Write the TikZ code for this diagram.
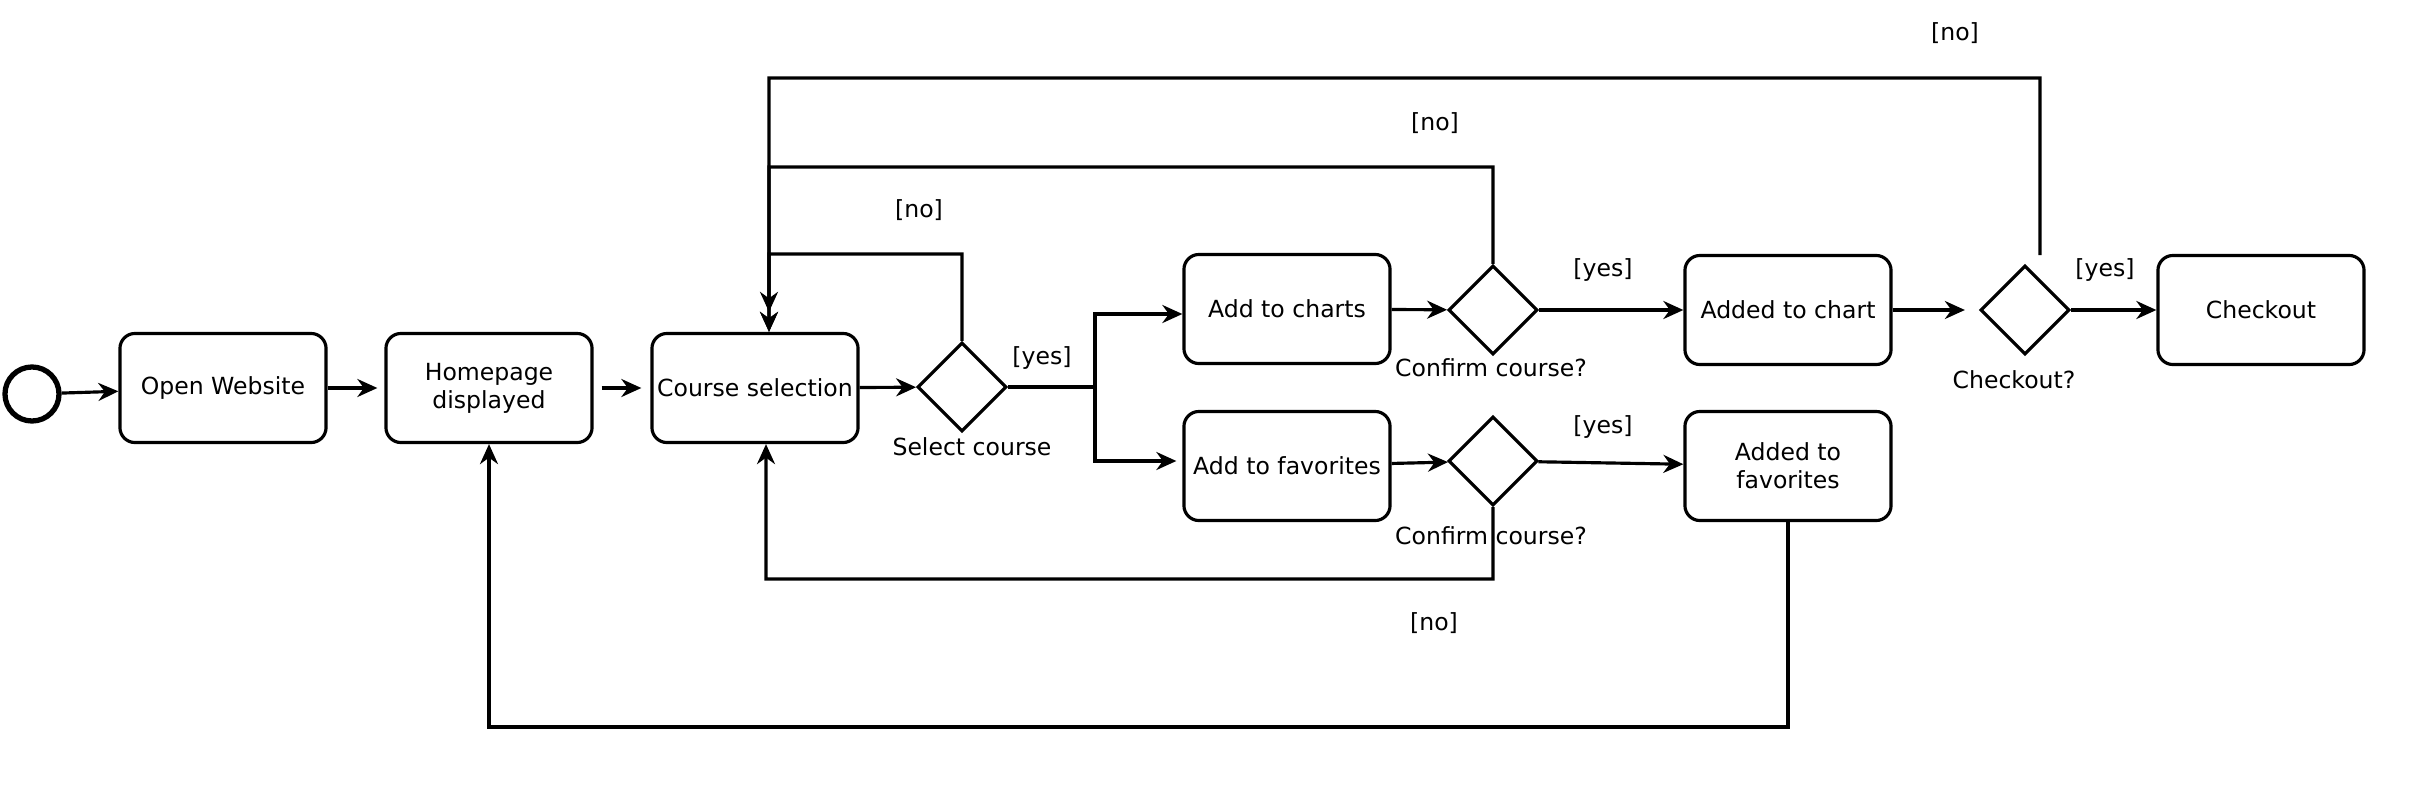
\documentclass[tikz,border=0pt]{standalone}
\usepackage{fontspec}
\setmainfont{DejaVu Sans}
\usetikzlibrary{positioning,shapes.geometric,arrows.meta}
\begin{document}
\begin{tikzpicture}[x=0.01cm,y=-0.01cm,
  every node/.style={font=\fontsize{6.7}{7.9}\selectfont},
  activity/.style={draw,line width=0.9pt,rounded corners=0.15cm,minimum width=2.06cm,minimum height=1.09cm,align=center,inner sep=1pt},
  decision/.style={draw,diamond,line width=0.9pt,minimum size=0.89cm,inner sep=0pt},
  flow/.style={line width=0.9pt,-{Stealth[length=2mm,width=1.8mm]}},
  guard/.style={inner sep=1pt}]
\useasboundingbox (0,0) rectangle (2417,812);
\node [draw,circle,line width=1.5pt,minimum size=0.54cm,inner sep=0pt] (start) at (32,394) {};
\node [activity] (open) at (223,388) {Open Website};
\node [activity] (home) at (489,388) {Homepage\\displayed};
\node [activity] (course) at (755,388) {Course selection};
\node [decision] (select) at (962,387) {};
\node [activity] (charts) at (1287,309) {Add to charts};
\node [activity] (fav) at (1287,466) {Add to favorites};
\node [decision] (conf1) at (1493,310) {};
\node [decision] (conf2) at (1493,461) {};
\node [activity] (addc) at (1788,310) {Added to chart};
\node [activity] (addf) at (1788,466) {Added to\\favorites};
\node [decision] (chk) at (2025,310) {};
\node [activity] (checkout) at (2261,310) {Checkout};
\coordinate (split) at (1095,387);
\coordinate (back1) at (769,254);
\coordinate (back2) at (769,167);
\coordinate (back3) at (769,78);
\coordinate (chkup) at (2040,255);
\coordinate (back4) at (766,579);
\coordinate (back5) at (489,727);
\draw [flow] (start) -- (open);
\draw [flow,shorten >=0.07cm] (open) -- (home);
\draw [flow,shorten <=0.08cm,shorten >=0.09cm] (home) -- (course);
\draw [flow] (course) -- (select);
\draw [line width=0.9pt] (select.east) -- (split);
\draw [flow] (split) |- ([yshift=-0.05cm]charts.west);
\draw [flow,shorten >=0.06cm] (split) |- ([yshift=0.05cm]fav.west);
\draw [flow] (charts) -- (conf1);
\draw [flow] (fav) -- (conf2);
\draw [flow] (conf1) -- (addc);
\draw [flow] (conf2) -- (addf);
\draw [flow,shorten >=0.14cm] (addc) -- (chk);
\draw [flow] (chk) -- (checkout);
\draw [flow] (select.north) |- (back1) -- ([xshift=0.14cm]course.north);
\draw [flow] (conf1.north) |- (back2) -- ([xshift=0.14cm]course.north);
\draw [flow,shorten >=0.2cm] (chkup) |- (back3) -- ([xshift=0.14cm]course.north);
\draw [flow] (conf2.south) |- (back4) -- ([xshift=0.11cm]course.south);
\draw [flow] (addf.south) |- (back5) -- (home.south);
\node [guard] (selectlbl) at (972,447) {Select course};
\node [guard] (conf1lbl) at (1491,368) {Confirm course?};
\node [guard] (conf2lbl) at (1491,536) {Confirm course?};
\node [guard] (chklbl) at (2014,380) {Checkout?};
\node [guard] (yes1) at (1042,358) {[yes]};
\node [guard] (yes2) at (1603,270) {[yes]};
\node [guard] (yes3) at (1603,427) {[yes]};
\node [guard] (yes4) at (2105,270) {[yes]};
\node [guard] (no1) at (919,210) {[no]};
\node [guard] (no2) at (1435,123) {[no]};
\node [guard] (no3) at (1955,33) {[no]};
\node [guard] (no4) at (1434,623) {[no]};
\end{tikzpicture}
\end{document}
